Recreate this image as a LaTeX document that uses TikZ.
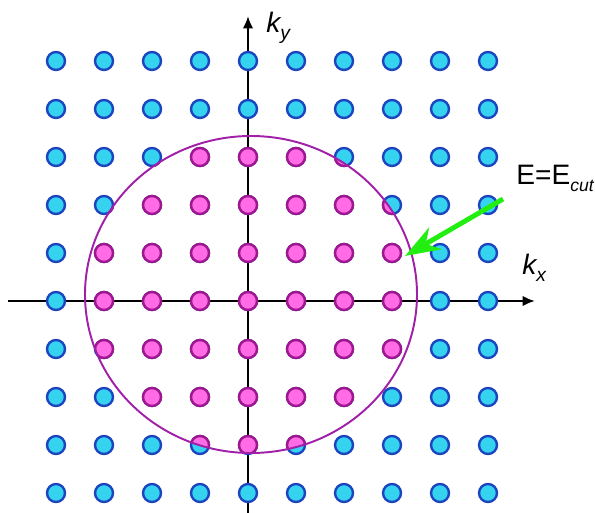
\documentclass[tikz,border=0pt]{standalone}
\usepackage{fontspec}
\setmainfont{Liberation Sans}
\usetikzlibrary{arrows.meta}
\definecolor{DotCyan}{HTML}{36D3F0}
\definecolor{DotBlue}{HTML}{1C44C0}
\definecolor{DotPink}{HTML}{FF6CE6}
\definecolor{DotPurple}{HTML}{A0168E}
\definecolor{Rim}{HTML}{A020A8}
\definecolor{Lime}{HTML}{22EE11}
\begin{document}
\begin{tikzpicture}[x=0.02cm,y=-0.02cm,
  cdot/.style={circle,draw=DotBlue,fill=DotCyan,line width=1.35pt,inner sep=0pt,minimum size=0.36cm},
  mdot/.style={circle,draw=DotPurple,fill=DotPink,line width=1.35pt,inner sep=0pt,minimum size=0.36cm},
  axis/.style={line width=1.7pt,-{Latex[length=7pt,width=6pt]}},
  rim/.style={draw=Rim,line width=1.1pt},
  pointer/.style={draw=Lime,line width=2.8pt,-{Stealth[length=0.7cm,width=0.5cm,inset=0.22cm]}},
  lbl/.style={anchor=base west,inner sep=0pt,font=\fontsize{16}{16}\selectfont}
]
\useasboundingbox (0,0) rectangle (595,513);
% axes
\coordinate (xl) at (8,301);
\coordinate (xr) at (535,301);
\coordinate (yb) at (248,513);
\coordinate (yt) at (248,16);
\draw[axis] (xl) -- (xr);
\draw[axis] (yb) -- (yt);
% lattice
\foreach \i in {0,...,9}
  \foreach \j in {0,...,9}
    \node[cdot] (c-\i-\j) at ({56+48*\i},{61+48*\j}) {};
\begin{scope}
  \clip (251,294.5) ellipse [x radius=166, y radius=158.5];
  \foreach \i in {0,...,9}
    \foreach \j in {0,...,9}
      \node[mdot] (m-\i-\j) at ({56+48*\i},{61+48*\j}) {};
\end{scope}
\draw[rim] (251,294.5) ellipse [x radius=166, y radius=158.5];
% labels
\node[lbl] (ky) at (266,33) {\itshape k\raisebox{-0.45ex}{\fontsize{11}{11}\selectfont y}};
\node[lbl] (kx) at (522,275) {\itshape k\raisebox{-0.45ex}{\fontsize{11}{11}\selectfont x}};
\node[lbl] (ecut) at (516,185) {E=E\raisebox{-0.45ex}{\fontsize{10}{10}\selectfont\itshape cut}};
\coordinate (from) at (503,199);
\coordinate (to) at (405,256);
\draw[pointer] (from) -- (to);
\end{tikzpicture}
\end{document}
